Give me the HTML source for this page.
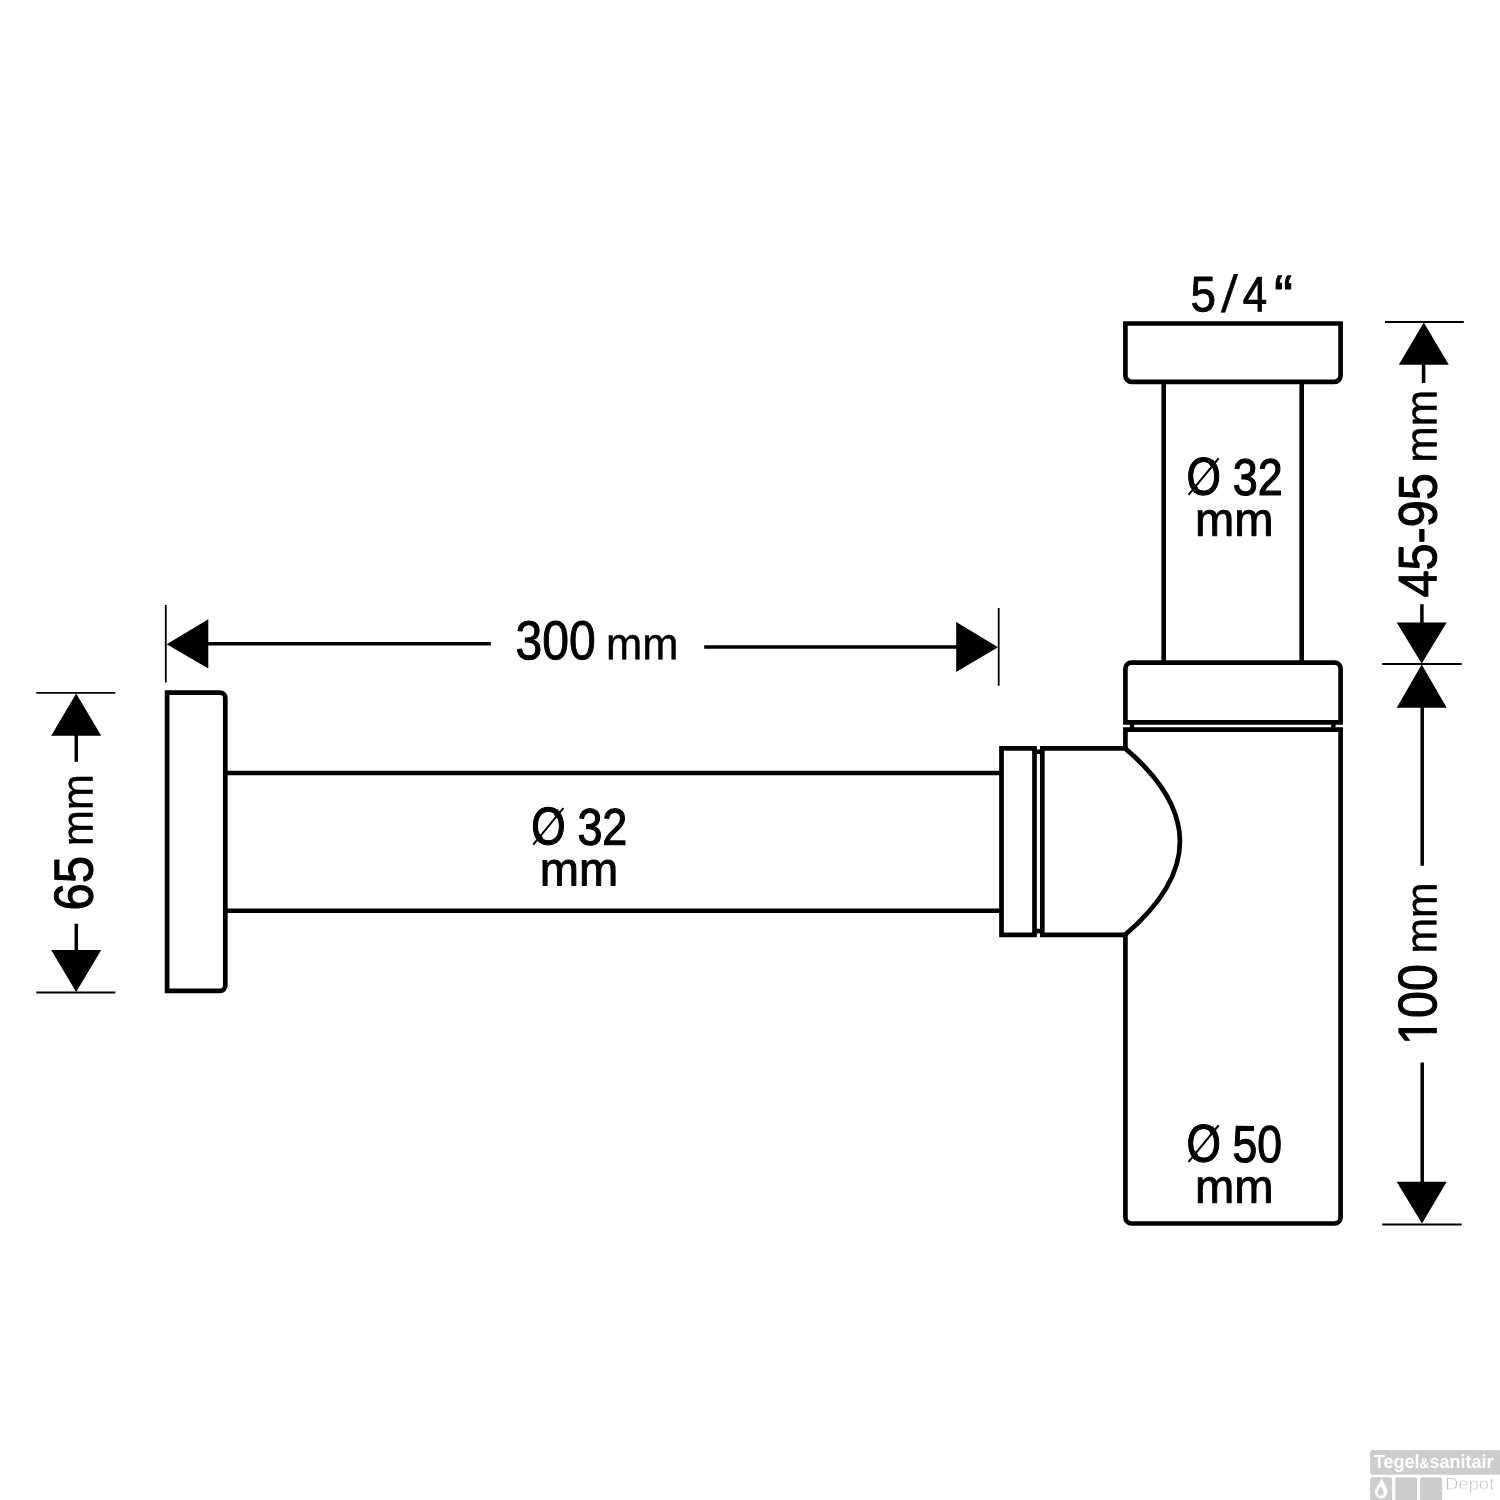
<!DOCTYPE html>
<html lang="nl">
<head>
<meta charset="utf-8">
<title>Sifon maattekening</title>
<style>
html,body{margin:0;padding:0;background:#fff;}
body{width:1500px;height:1500px;overflow:hidden;}
svg{display:block;}
</style>
</head>
<body>
<svg width="1500" height="1500" viewBox="0 0 1500 1500">
<defs><clipPath id="ring" clipPathUnits="userSpaceOnUse"><ellipse cx="20.53" cy="-18.18" rx="19.44" ry="20.14"/></clipPath><filter id="aa" filterUnits="userSpaceOnUse" x="0" y="0" width="1500" height="1500" color-interpolation-filters="sRGB"><feOffset dx="0" dy="0"/></filter></defs>
<rect width="1500" height="1500" fill="#fff"/>
<g filter="url(#aa)">
<g fill="none" stroke="#000" stroke-width="4.7" stroke-linejoin="miter">
<path d="M167.1 692.7 H220.1 A5.2 5.2 0 0 1 225.3 697.9 V985.6 A5.2 5.2 0 0 1 220.1 990.8 H167.1 V692.7 Z"/>
<path d="M227 773 H1000 M227 910.7 H1000" stroke-width="4.5"/>
<path d="M1001.5 748.3 H1034.5 V934.9 H1001.5 Z"/>
<path d="M1125.5 748.3 H1042.3 V934.9 H1125.5"/>
<path d="M1124.6 747.9 Q1235.3 841.5 1124.6 935.2" stroke-linejoin="round"/>
<path d="M1038.4 749.6 V754 M1038.4 928.8 V933.4" stroke-width="4"/>
<path d="M1125.4 748.3 V729.6 H1340.6 V1217.3 A6.2 6.2 0 0 1 1334.4 1223.5 H1131.6 A6.2 6.2 0 0 1 1125.4 1217.3 V934.9" stroke-width="4.7"/>
<path d="M1131.4 662.6 H1334.6 A6 6 0 0 1 1340.6 668.6 V722.3 H1125.4 V668.6 A6 6 0 0 1 1131.4 662.6 Z" stroke-width="4.7"/>
<path d="M1132 723 V729 M1333.4 723 V729" stroke-width="4.4"/>
<path d="M1163.7 383 V661 M1301.7 383 V661" stroke-width="4.6"/>
<path d="M1125.4 323.5 H1340.6 V375.6 A6.2 6.2 0 0 1 1334.4 381.8 H1131.6 A6.2 6.2 0 0 1 1125.4 375.6 V323.5 Z"/>
</g>
<g fill="none" stroke="#000" stroke-width="1.8">
<path d="M36.3 692.8 H115.3 M36.3 992.5 H115.3"/>
<path d="M165.8 605 V682.5 M998.7 608 V685.8"/>
<path d="M1385 322 H1463.8 M1382.2 664 H1461.7 M1382.2 1224.5 H1461.7"/>
</g>
<g fill="none" stroke="#000" stroke-width="3.5">
<path d="M76.3 735 V761.7 M76.3 923.7 V951"/>
<path d="M207 643.7 H490.8 M704.2 647 H957"/>
<path d="M1423.6 364 V383 M1421.9 604.2 V623 M1422.2 707 V865.8 M1422.2 1062.5 V1182"/>
</g>
<g fill="#000" stroke="none">
<path d="M76.2 693.5 L101.2 735.8 H51.2 Z"/>
<path d="M76.2 992 L101.2 950 H51.2 Z"/>
<path d="M166.7 644.2 L208.3 619.2 V668.6 Z"/>
<path d="M998 647.2 L956.2 622 V672 Z"/>
<path d="M1423.8 322.6 L1448.8 364.7 H1398.8 Z"/>
<path d="M1421.7 663.6 L1446.7 622.5 H1396.7 Z"/>
<path d="M1421.7 664.6 L1446.7 707.8 H1396.7 Z"/>
<path d="M1422 1223.6 L1446.7 1181.7 H1396.7 Z"/>
</g>
<g fill="#000" stroke="#000" stroke-linejoin="round" font-family="'Liberation Sans', Arial, Helvetica, sans-serif">
<text transform="translate(515.47 659.16) skewY(0.05) scale(0.8750 1)" font-size="54.94" stroke-width="1">300</text>
<text transform="translate(605.97 659.15) skewY(0.05) scale(0.9655 1)" font-size="44.97" stroke-width="0.5">mm</text>
<text clip-path="url(#ring)" transform="translate(531.2 844.28) skewY(0.05) scale(0.8375 1)" font-size="52.82" stroke-width="1.2">Ø</text>
<ellipse cx="548.39" cy="826.11" rx="9.95" ry="13.74" fill="#fff" stroke="none"/>
<path d="M533.26 844.67 L563.39 808.04" fill="none" stroke="#000" stroke-width="2"/>
<text transform="translate(577.39 844.7) skewY(0.05) scale(0.8691 1)" font-size="51.69" stroke-width="1.2">32</text>
<text transform="translate(539.82 885.45) skewY(0.05) scale(0.9947 1)" font-size="47.39" stroke-width="0.9">mm</text>
<text clip-path="url(#ring)" transform="translate(1186.5 494.48) skewY(0.05) scale(0.8375 1)" font-size="52.82" stroke-width="1.2">Ø</text>
<ellipse cx="1203.69" cy="476.31" rx="9.95" ry="13.74" fill="#fff" stroke="none"/>
<path d="M1188.56 494.87 L1218.69 458.24" fill="none" stroke="#000" stroke-width="2"/>
<text transform="translate(1232.69 494.9) skewY(0.05) scale(0.8691 1)" font-size="51.69" stroke-width="1.2">32</text>
<text transform="translate(1195.12 535.65) skewY(0.05) scale(0.9947 1)" font-size="47.39" stroke-width="0.9">mm</text>
<text clip-path="url(#ring)" transform="translate(1186.5 1161.48) skewY(0.05) scale(0.8375 1)" font-size="52.82" stroke-width="1.2">Ø</text>
<ellipse cx="1203.69" cy="1143.31" rx="9.95" ry="13.74" fill="#fff" stroke="none"/>
<path d="M1188.56 1161.87 L1218.69 1125.24" fill="none" stroke="#000" stroke-width="2"/>
<text transform="translate(1232.62 1161.9) skewY(0.05) scale(0.8612 1)" font-size="51.69" stroke-width="1.2">50</text>
<text transform="translate(1195.12 1202.65) skewY(0.05) scale(0.9947 1)" font-size="47.39" stroke-width="0.9">mm</text>
<text transform="translate(1190.62 311.36) skewY(0.05) scale(0.9177 1)" font-size="49.87" stroke-width="0.9">5</text>
<text transform="translate(1221.08 311.74) skewY(0.05) skewX(-3.8)" font-size="51.74" stroke-width="0.5">/</text>
<text transform="translate(1242.64 311.25) skewY(0.05) scale(0.8823 1)" font-size="49.71" stroke-width="0.9">4</text>
<text transform="translate(1274.01 317.11) skewY(0.05) scale(0.9488 1)" font-size="60.05" stroke-width="1">“</text>
<text transform="translate(92.51 910.54) rotate(-90) skewY(0.05) scale(0.8949 1)" font-size="54.8" stroke-width="1.1">65</text>
<text transform="translate(92.55 845.91) rotate(-90) skewY(0.05) scale(0.9744 1)" font-size="44.23" stroke-width="0.5">mm</text>
<text transform="translate(1436.32 597.36) rotate(-90) skewY(0.05) scale(0.8966 1)" font-size="54.1" stroke-width="1.1">45-95</text>
<text transform="translate(1436.55 462.66) rotate(-90) skewY(0.05) scale(0.9809 1)" font-size="44.6" stroke-width="0.5">mm</text>
<text transform="translate(1436.22 1044.94) rotate(-90) skewY(0.05) scale(0.8939 1)" font-size="54.24" stroke-width="1.1">100</text>
<rect x="1430.32" y="1033.3" width="7.25" height="9.3" fill="#fff" stroke="none"/>
<rect x="1430.32" y="1019" width="7.25" height="8.92" fill="#fff" stroke="none"/>
<text transform="translate(1436.35 953.59) rotate(-90) skewY(0.05) scale(0.9696 1)" font-size="44.05" stroke-width="0.5">mm</text>
</g>
<g>
<rect x="1370.1" y="1450.1" width="130.6" height="24.6" rx="2.6" fill="#cdcdcd"/>
<rect x="1370.1" y="1477.3" width="22.1" height="24.4" rx="2.6" fill="#cdcdcd"/>
<rect x="1395.2" y="1477.3" width="21.9" height="24.4" rx="2.6" fill="#cdcdcd"/>
<rect x="1420.2" y="1477.3" width="22" height="24.4" rx="2.6" fill="#cdcdcd"/>
<path d="M1381.7 1478.6 C1384.6 1484.2 1387.5 1488.2 1387.5 1492.1 A6.3 6.3 0 0 1 1374.9 1492.1 C1374.9 1488.2 1378.8 1484.2 1381.7 1478.6 Z" fill="#fff"/>
<path d="M1380.8 1486.2 C1382.2 1488.7 1383.7 1490.9 1383.7 1492.8 A3 3 0 0 1 1377.7 1492.8 C1377.7 1490.9 1379.4 1488.7 1380.8 1486.2 Z" fill="#cdcdcd"/>
</g>
<g>
<text transform="translate(1373.8 1468) skewY(0.05) scale(0.955 1)" font-family="'Liberation Sans', Arial, Helvetica, sans-serif" font-weight="bold" font-size="18.9" fill="#fff">Tegel<tspan font-size="14.2">&amp;</tspan>sanitair</text>
<text transform="translate(1445.3 1489.5) skewY(0.05) scale(1.077 1)" font-family="'Liberation Sans', Arial, Helvetica, sans-serif" font-size="17" fill="#c2c2c2" stroke="#fff" stroke-width="0.5">Depot</text>
</g>
</g>
</svg>
</body>
</html>
